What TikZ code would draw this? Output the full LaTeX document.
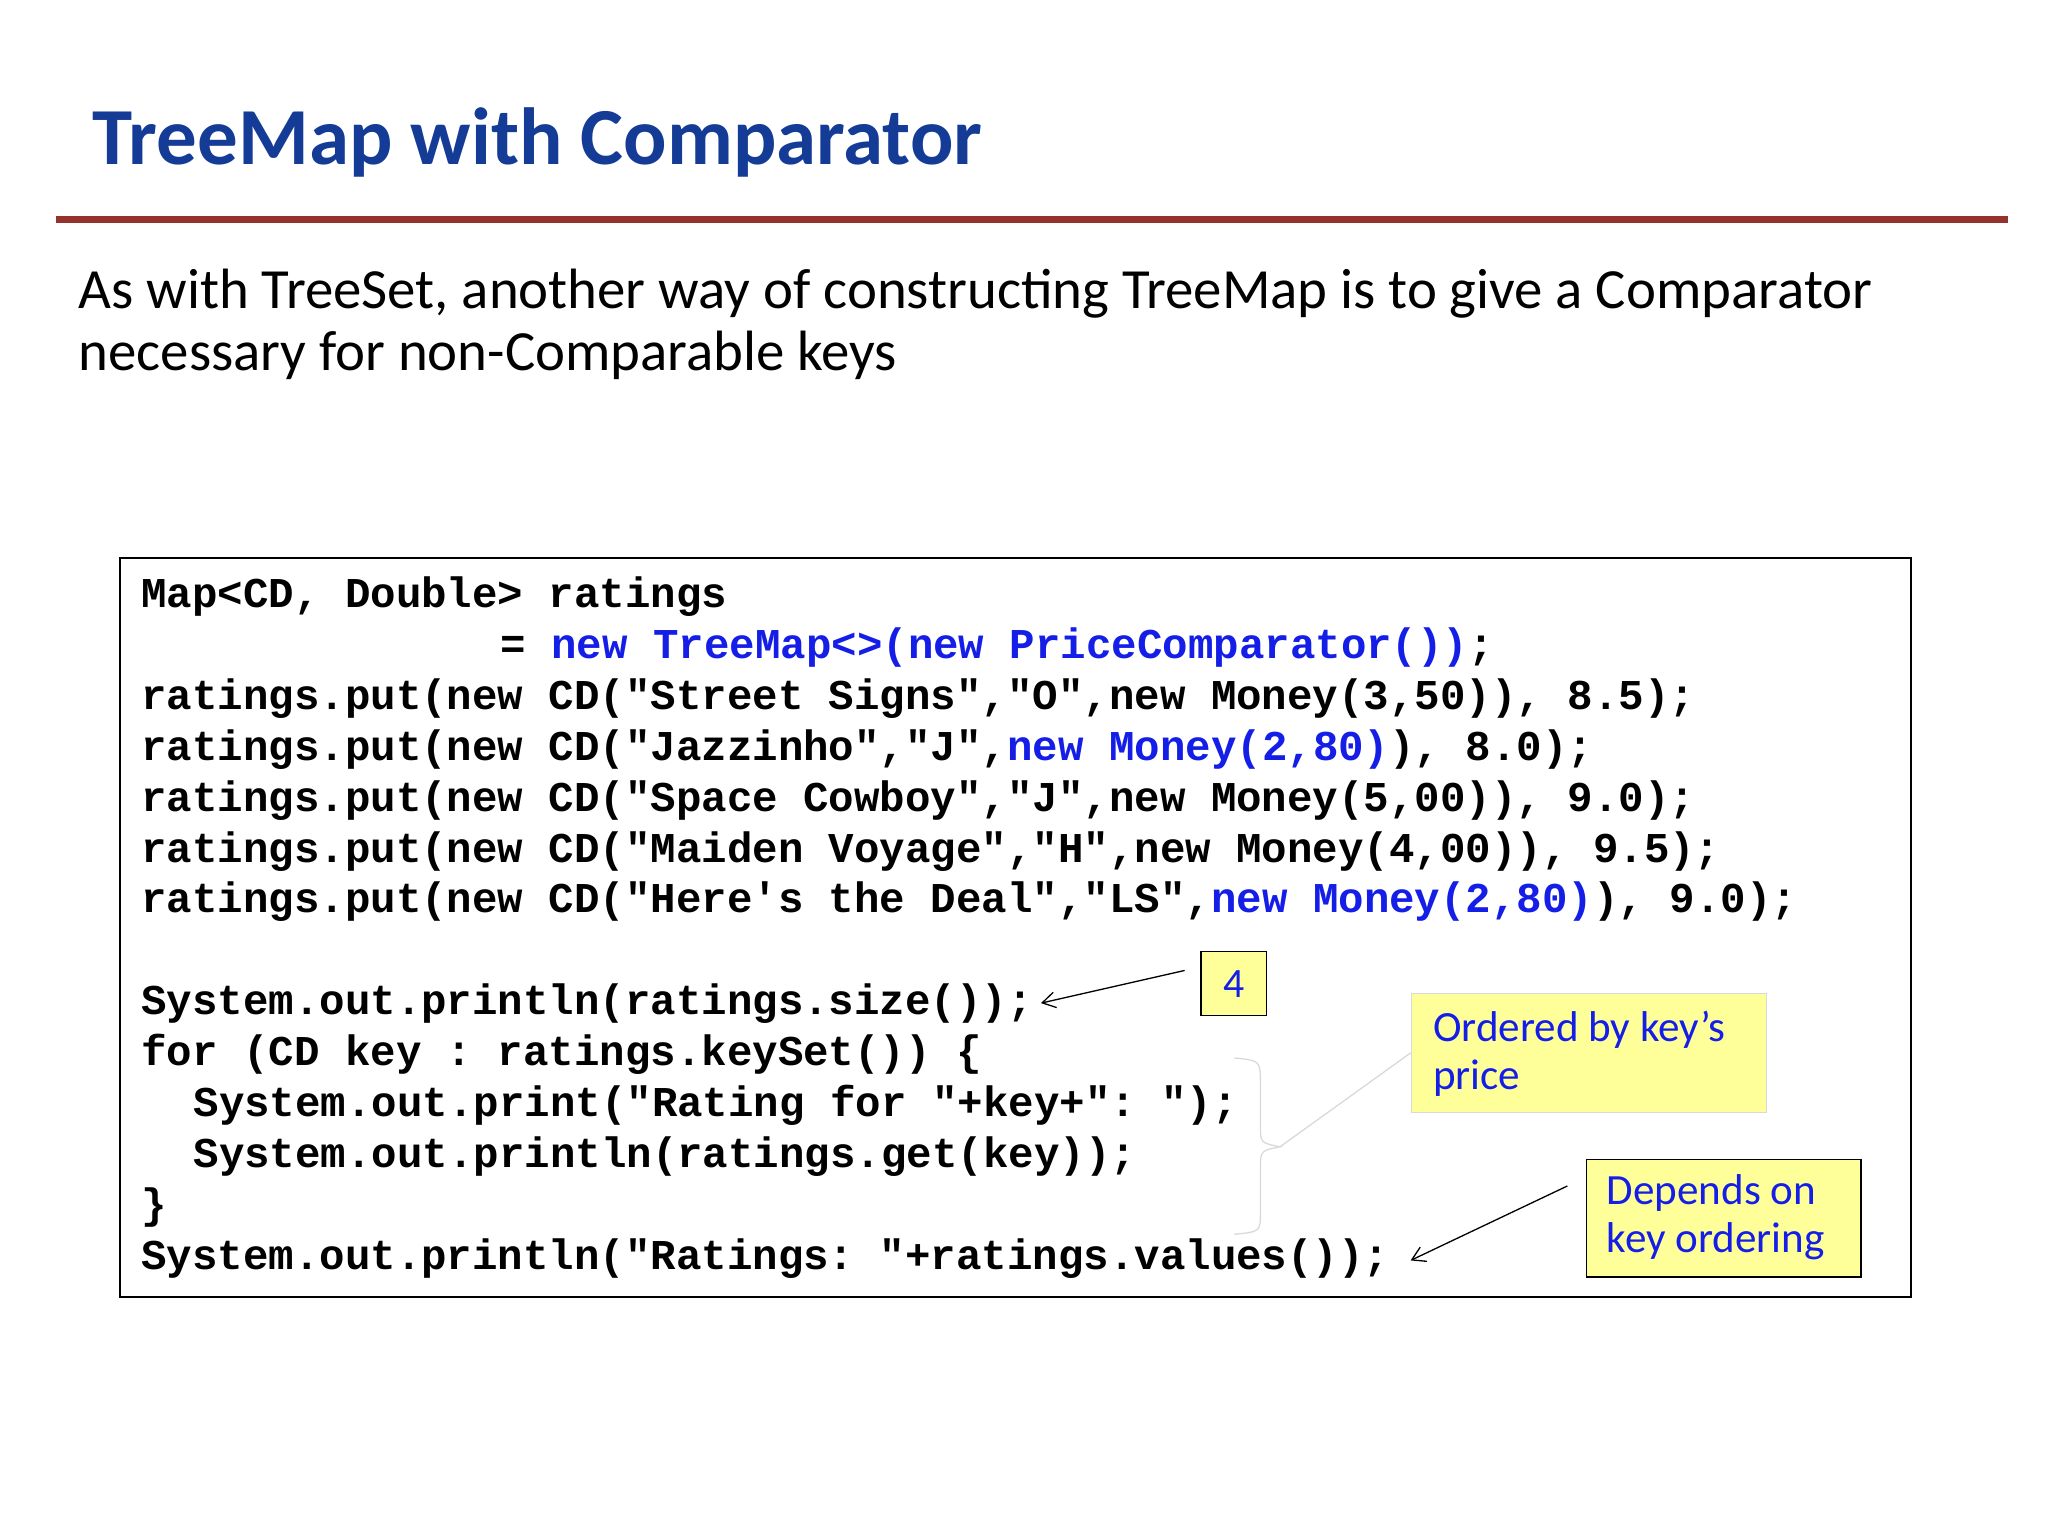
\documentclass[tikz,border=0pt]{standalone}
\usepackage{fontspec}
\setmainfont{Carlito}
\setmonofont{Liberation Mono}
\usetikzlibrary{arrows.meta,decorations.pathreplacing}
\definecolor{ttl}{RGB}{20,60,150}
\definecolor{rline}{RGB}{150,50,45}
\definecolor{cblue}{RGB}{20,30,230}
\definecolor{cyel}{RGB}{255,255,153}
\tikzset{code/.style={anchor=base west,inner sep=0pt,font=\fontsize{32.5}{39}\selectfont\ttfamily\bfseries},
 note/.style={fill=cyel,draw=black,line width=1.2pt,align=left,anchor=north west,inner sep=0pt},
 ntext/.style={anchor=north west,align=left,text=cblue,font=\fontsize{33}{37}\selectfont,inner sep=0pt},
 arr/.style={-{Straight Barb[length=10pt,width=12pt]},line width=1pt}}
\begin{document}
\begin{tikzpicture}[x=1pt,y=-1pt]
\useasboundingbox (0,0) rectangle (1568,1176);
\node[anchor=base west,inner sep=0pt,text=ttl,font=\fontsize{62}{66}\selectfont\bfseries] (title) at (71,126) {TreeMap with Comparator};
\draw[rline,line width=5pt] (43,168) -- (1537,168);
\node[anchor=base west,inner sep=0pt,align=left,font=\fontsize{43.5}{48}\selectfont] (intro) at (60,284) {As with TreeSet, another way of constructing TreeMap is to give a Comparator\\necessary for non-Comparable keys};
\draw[line width=1.2pt] (92,427) rectangle (1463,993);
\node[code] (l1) at (108,465) {Map<CD, Double> ratings};
\node[code] (l2) at (383,504) {= \textcolor{cblue}{new TreeMap<>(new PriceComparator())};};
\node[code] (l3) at (108,543) {ratings.put(new CD("Street Signs","O",new Money(3,50)), 8.5);};
\node[code] (l4) at (108,582) {ratings.put(new CD("Jazzinho","J",\textcolor{cblue}{new Money(2,80)}), 8.0);};
\node[code] (l5) at (108,621) {ratings.put(new CD("Space Cowboy","J",new Money(5,00)), 9.0);};
\node[code] (l6) at (108,660) {ratings.put(new CD("Maiden Voyage","H",new Money(4,00)), 9.5);};
\node[code] (l7) at (108,699) {ratings.put(new CD("Here\textquotesingle s the Deal","LS",\textcolor{cblue}{new Money(2,80)}), 9.0);};
\node[code] (l8) at (108,777) {System.out.println(ratings.size());};
\node[code] (l9) at (108,816) {for (CD key : ratings.keySet()) \{};
\node[code] (l10) at (148,855) {System.out.print("Rating for "+key+": ");};
\node[code] (l11) at (148,894) {System.out.println(ratings.get(key));};
\node[code] (l12) at (108,933) {\}};
\node[code] (l13) at (108,972) {System.out.println("Ratings: "+ratings.values());};
\node[note,minimum width=50pt,minimum height=49pt] (n4) at (919,728) {};
\node[text=cblue,font=\fontsize{32}{36}\selectfont] at (n4.center) {4};
\draw[arr] (907,743) -- (797,768);
\node[note,draw=black!15,minimum width=272pt,minimum height=91pt] (n1) at (1080,760) {};
\node[ntext] at (1097,774) {Ordered by key’s\\price};
\draw[black!15,line width=1pt] (945,810) .. controls (965,812) .. (965,830) -- (965,862) .. controls (965,875) .. (980,878) .. controls (965,881) .. (965,895) -- (965,928) .. controls (965,943) .. (945,945);
\coordinate (bt) at (980,878);
\draw[black!15,line width=1pt] (bt) -- (n1.west);
\node[note,minimum width=210pt,minimum height=90pt] (n2) at (1214,887) {};
\node[ntext] at (1230,899) {Depends on\\key ordering};
\draw[arr] (1200,908) -- (1080,965);
\end{tikzpicture}
\end{document}
